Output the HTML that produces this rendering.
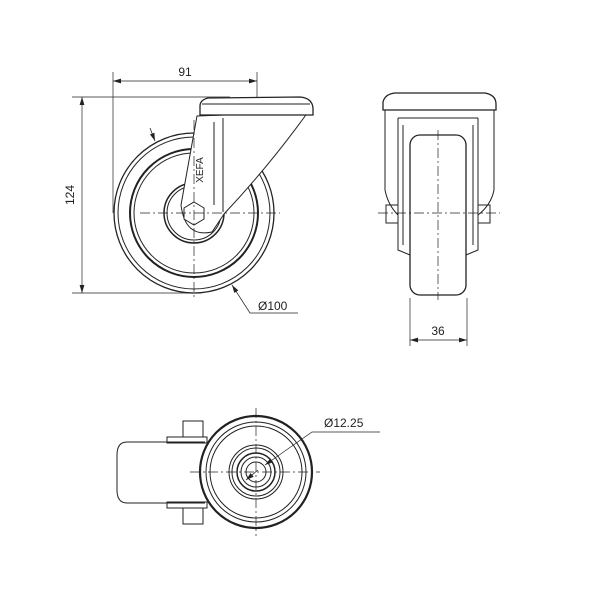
<!DOCTYPE html>
<html><head><style>body{margin:0;background:#fff}</style></head><body>
<svg width="600" height="600" viewBox="0 0 600 600" xmlns="http://www.w3.org/2000/svg" font-family="Liberation Sans, sans-serif">
<defs>
<marker id="a" viewBox="0 0 10 10" refX="10" refY="5" markerWidth="8" markerHeight="8" orient="auto-start-reverse" markerUnits="userSpaceOnUse"><path d="M0 2 L10 5 L0 8 Z" fill="#222"/></marker>
</defs>
<rect width="600" height="600" fill="#fff"/>
<g fill="none" stroke="#222" stroke-width="1">
<line x1="113" y1="72" x2="113" y2="213" stroke-width="0.7"/>
<line x1="257" y1="72" x2="257" y2="118" stroke-width="0.7"/>
<line x1="113" y1="81" x2="257" y2="81" stroke-width="0.7" marker-start="url(#a)" marker-end="url(#a)"/>
<line x1="72" y1="97" x2="230" y2="97" stroke-width="0.7"/>
<line x1="72" y1="293" x2="194" y2="293" stroke-width="0.7"/>
<line x1="82" y1="97" x2="82" y2="293" stroke-width="0.7" marker-start="url(#a)" marker-end="url(#a)"/>
<circle cx="194" cy="213" r="80" stroke-width="1.3"/>
<circle cx="194" cy="213" r="76"/>
<circle cx="194" cy="213" r="64" stroke-width="2"/>
<circle cx="194" cy="213" r="60"/>
<circle cx="194" cy="213" r="30" stroke-width="1.5"/>
<circle cx="194" cy="213" r="27"/>
<path d="M197 116 L181 205 Q185 238 212 232 L224 214 Q270 165 308 112 Z" fill="#fff"/>
<line x1="223" y1="118" x2="223" y2="212"/>
<line x1="214" y1="122" x2="214" y2="205"/>
<path d="M200 115 L200 106 Q200 100 208 98 L300 97 Q312 98 313 108 L313 115 Z" fill="#fff" stroke-width="1.3"/>
<line x1="202" y1="104" x2="310" y2="104"/>
<polygon points="194,202 204,208 204,219 194,225 184,219 184,208" fill="#fff"/>
<line x1="140" y1="213" x2="280" y2="213" stroke-dasharray="10,3,2,3" stroke-width="0.7"/>
<line x1="194" y1="120" x2="194" y2="300" stroke-dasharray="10,3,2,3" stroke-width="0.7"/>
<path d="M150 128 L155 141" stroke-width="0.8" marker-end="url(#a)"/>
<path d="M298 313 L250 313 L232 285" stroke-width="0.7" marker-end="url(#a)"/>
<path d="M383 110 L383 102 Q385 94 395 93 L485 93 Q496 95 496 104 L496 110 Z" stroke-width="1.3"/>
<path d="M385 110 L385 190 Q388 205 398 215 L398 240 M494 110 L494 190 Q491 205 478 215 L478 240"/>
<path d="M398 118 L398 250 L410 255 M478 118 L478 250 L466 255 M398 118 L478 118"/>
<path d="M403 125 L403 245 M473 125 L473 245"/>
<rect x="410" y="135" width="56" height="160" rx="10" stroke-width="1.3"/>
<rect x="386" y="205" width="12" height="18"/>
<rect x="478" y="205" width="12" height="18"/>
<line x1="378" y1="213" x2="500" y2="213" stroke-dasharray="10,3,2,3" stroke-width="0.7"/>
<line x1="438" y1="130" x2="438" y2="300" stroke-dasharray="10,3,2,3" stroke-width="0.7"/>
<line x1="410" y1="298" x2="410" y2="346" stroke-width="0.7"/>
<line x1="467" y1="298" x2="467" y2="346" stroke-width="0.7"/>
<line x1="410" y1="340" x2="467" y2="340" stroke-width="0.7" marker-start="url(#a)" marker-end="url(#a)"/>
<path d="M205 442 L127 442 Q117 442 117 455 L117 490 Q117 503 127 503 L205 503"/>
<rect x="167" y="437" width="40" height="6"/>
<rect x="167" y="502" width="40" height="6"/>
<rect x="183" y="421" width="20" height="16"/>
<rect x="183" y="508" width="20" height="16"/>
<circle cx="256" cy="472" r="56" fill="#fff" stroke-width="2.2"/>
<circle cx="256" cy="472" r="50"/>
<circle cx="256" cy="472" r="46"/>
<circle cx="256" cy="472" r="27"/>
<circle cx="256" cy="472" r="24"/>
<circle cx="256" cy="472" r="19" stroke-width="1.5"/>
<circle cx="256" cy="472" r="15"/>
<circle cx="256" cy="472" r="10"/>
<line x1="190" y1="472" x2="320" y2="472" stroke-dasharray="10,3,2,3" stroke-width="0.7"/>
<line x1="256" y1="408" x2="256" y2="536" stroke-dasharray="10,3,2,3" stroke-width="0.7"/>
<path d="M380 432 L312 432 L265 465" stroke-width="0.7" marker-end="url(#a)"/>
<path d="M258 470 L246 480" stroke-width="0.7" marker-end="url(#a)"/>
</g>
<g fill="#222" font-size="12">
<text x="185" y="76" text-anchor="middle">91</text>
<text x="74" y="195" text-anchor="middle" transform="rotate(-90 74 195)">124</text>
<text x="258" y="310">Ø100</text>
<text x="438" y="335" text-anchor="middle">36</text>
<text x="324" y="427">Ø12.25</text>
<text x="203" y="170" font-size="10" transform="rotate(-90 203 170)" text-anchor="middle">XEFA</text>
</g>
</svg>
</body></html>
